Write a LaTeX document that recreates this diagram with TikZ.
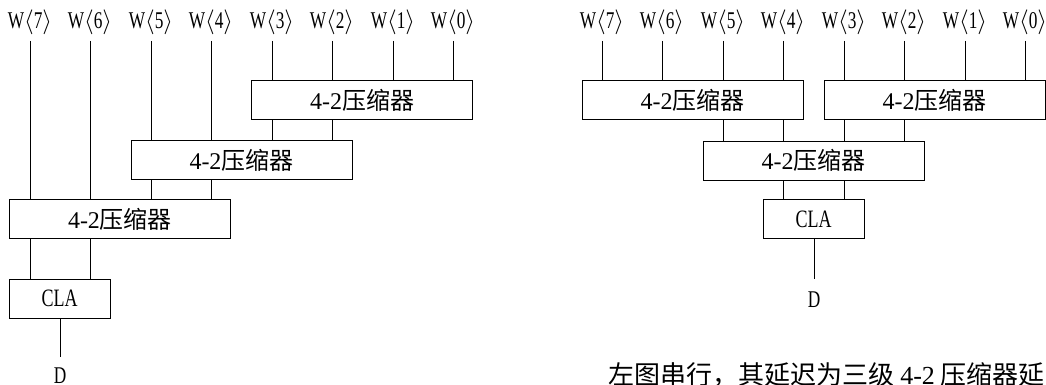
\documentclass[tikz,border=0pt]{standalone}
\usepackage{fontspec}
\setmainfont{Liberation Serif}
\newfontfamily\cjk{Noto Sans CJK SC}
\newfontfamily\rom{Liberation Serif}
\newfontfamily\lat[FakeStretch=0.72]{Liberation Serif}
\newcommand\cmptext{{\rom 4-2}{\cjk 压缩器}}
\newcommand\wl[1]{W$\langle$#1$\rangle$}
\begin{document}
\begin{tikzpicture}[x=1pt,y=-1pt,line width=1pt,
  box/.style={draw,line width=1pt,inner sep=0pt,minimum height=39pt,font=\fontsize{24}{27}\selectfont},
  cmp/.style={box,minimum width=221pt},
  clabox/.style={box,minimum width=101pt,font=\lat\fontsize{25}{28}\selectfont},
  lbl/.style={inner sep=0pt,anchor=base,font=\lat\fontsize{24}{28}\selectfont},
  wire/.style={line width=1pt}]
\clip (0,0) rectangle (1046,385);
% ---------- left (serial) ----------
\foreach \i/\x in {7/30,6/90,5/151,4/211,3/272,2/332,1/393,0/453}{
  \node[lbl] (lw\i) at (\x,29) {\wl{\i}};
  \coordinate (la\i) at (\x,41);
}
\node[cmp] (A) at (362,100.5) {\cmptext};
\node[cmp] (B) at (241.5,160) {\cmptext};
\node[cmp] (C) at (120,219) {\cmptext};
\node[clabox] (L) at (59.5,298.5) {CLA};
\coordinate (ld) at (60,357);
\node[lbl] (LD) at (60,383) {D};
\foreach \i in {3,2,1,0}{ \draw[wire] (la\i) -- (la\i |- A.north); }
\foreach \i in {5,4}{ \draw[wire] (la\i) -- (la\i |- B.north); }
\foreach \i in {7,6}{ \draw[wire] (la\i) -- (la\i |- C.north); }
\foreach \i in {3,2}{ \draw[wire] (A.south -| la\i) -- (B.north -| la\i); }
\foreach \i in {5,4}{ \draw[wire] (B.south -| la\i) -- (C.north -| la\i); }
\foreach \i in {7,6}{ \draw[wire] (C.south -| la\i) -- (L.north -| la\i); }
\draw[wire] (L.south -| ld) -- (ld);
% ---------- right (tree) ----------
\foreach \i/\x in {7/602,6/662,5/723,4/783,3/844,2/904,1/965,0/1025}{
  \node[lbl] (rw\i) at (\x,29) {\wl{\i}};
  \coordinate (ra\i) at (\x,41);
}
\node[cmp] (RL) at (692.5,100.5) {\cmptext};
\node[cmp] (RR) at (934.5,100.5) {\cmptext};
\node[cmp] (RM) at (813.5,160.5) {\cmptext};
\node[clabox] (R) at (813.5,219) {CLA};
\coordinate (rd) at (814,279);
\node[lbl] (RD) at (814,307) {D};
\foreach \i in {7,6,5,4}{ \draw[wire] (ra\i) -- (ra\i |- RL.north); }
\foreach \i in {3,2,1,0}{ \draw[wire] (ra\i) -- (ra\i |- RR.north); }
\foreach \i in {5,4}{ \draw[wire] (RL.south -| ra\i) -- (RM.north -| ra\i); }
\foreach \i in {3,2}{ \draw[wire] (RR.south -| ra\i) -- (RM.north -| ra\i); }
\foreach \i in {4,3}{ \draw[wire] (RM.south -| ra\i) -- (R.north -| ra\i); }
\draw[wire] (R.south -| rd) -- (rd);
% ---------- caption ----------
\node[anchor=base west,inner sep=0pt,font=\fontsize{26}{30}\selectfont] (cap) at (608,384)
  {\cjk 左图串行，其延迟为三级 {\rom 4-2} 压缩器延};
\end{tikzpicture}
\end{document}
